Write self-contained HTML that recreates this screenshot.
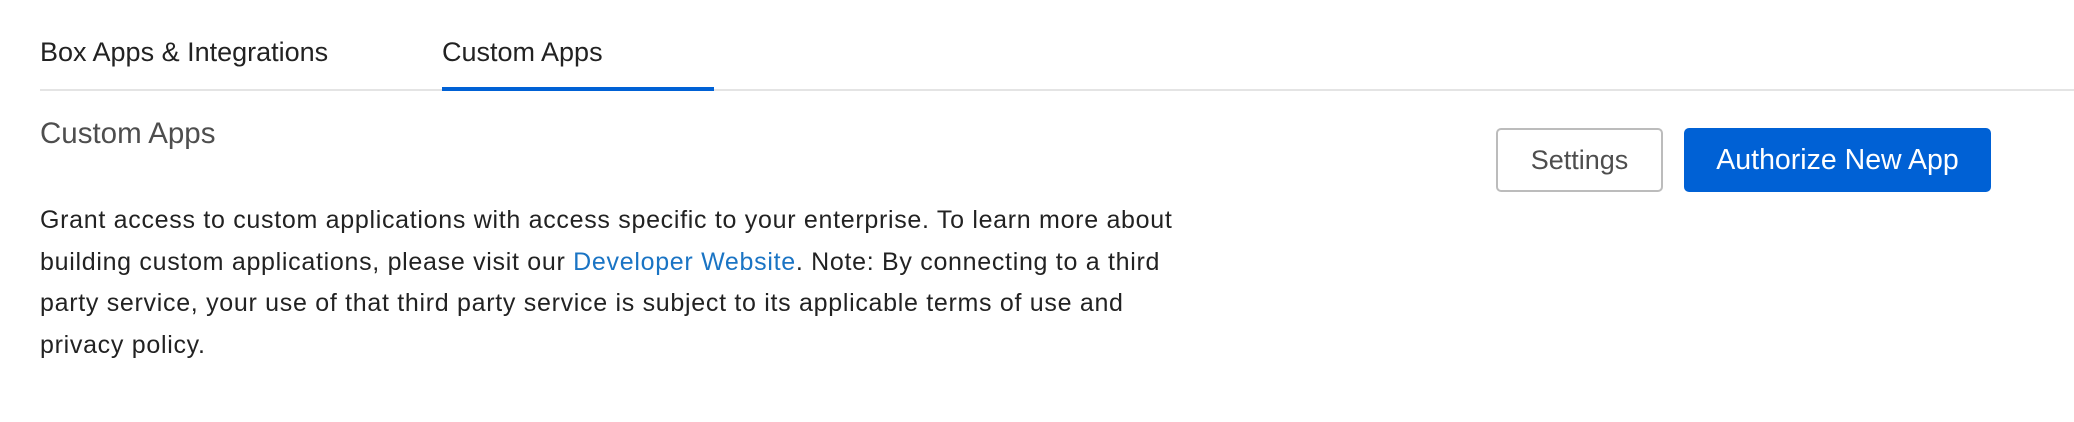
<!DOCTYPE html>
<html><head><style>
body{margin:0;width:2074px;height:422px;background:#fff;font-family:"Liberation Sans",sans-serif;position:relative;overflow:hidden;color:#222}
.a{position:absolute;white-space:nowrap}
</style></head><body>
<div class="a" style="left:40px;top:37px;font-size:27px;color:#222">Box Apps &amp; Integrations</div>
<div class="a" style="left:442px;top:37px;font-size:27px;color:#222">Custom Apps</div>
<div class="a" style="left:40px;top:89px;width:2034px;height:2px;background:#e4e4e4"></div>
<div class="a" style="left:442px;top:87px;width:272px;height:4px;background:#0061d5"></div>
<div class="a" style="left:40px;top:117px;font-size:29.5px;color:#4e4e4e">Custom Apps</div>
<div class="a" style="left:1496px;top:128px;width:163px;height:60px;border:2px solid #bcbcbc;border-radius:5px;font-size:27px;color:#4e4e4e;text-align:center;line-height:60px">Settings</div>
<div class="a" style="left:1684px;top:128px;width:307px;height:64px;background:#0061d5;border-radius:5px;font-size:28.5px;color:#fff;text-align:center;line-height:64px">Authorize New App</div>
<div class="a" style="left:40px;top:200px;font-size:25px;letter-spacing:0.7px;line-height:41.5px;color:#222">Grant access to custom applications with access specific to your enterprise. To learn more about<br>building custom applications, please visit our <span style="color:#1a74c4">Developer Website</span>. Note: By connecting to a third<br>party service, your use of that third party service is subject to its applicable terms of use and<br>privacy policy.</div>
</body></html>
